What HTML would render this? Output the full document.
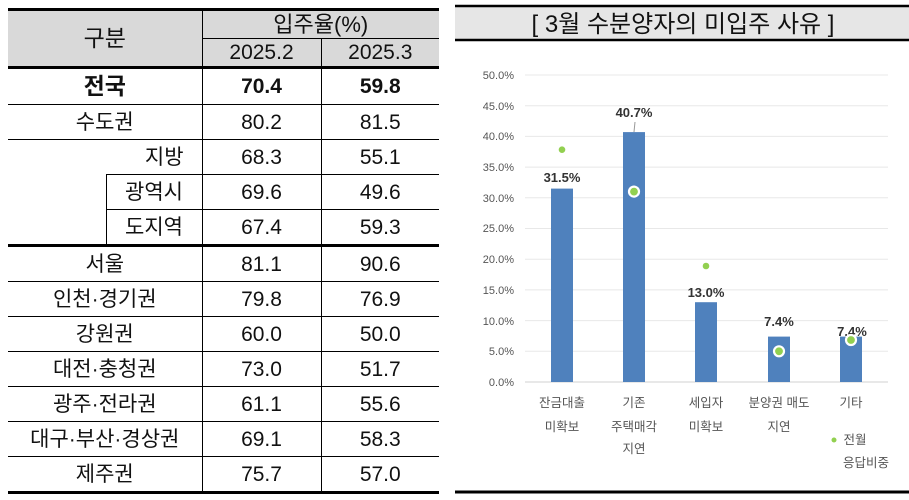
<!DOCTYPE html>
<html><head><meta charset="utf-8"><style>
body{margin:0;width:909px;height:500px;background:#fff;overflow:hidden;position:relative;font-family:"Liberation Sans","Noto Sans CJK KR",sans-serif;}
table{position:absolute;left:8px;top:8px;border-collapse:collapse;width:431px;table-layout:fixed;}
td{border:1px solid #000;text-align:center;font-size:21px;height:34px;padding:0;color:#111;line-height:1;}
.h{background:#d9d9d9;}
.tt{border-top:3px solid #000;}
.tb{border-bottom:3px solid #000;}
.nl{border-left:none;} .nr{border-right:none;}
</style></head><body>
<table>
<colgroup><col style="width:98px"><col style="width:96px"><col style="width:119px"><col style="width:118px"></colgroup>
<tr><td colspan="2" rowspan="2" class="h tt nl tb" style="font-size:23px">구분</td><td colspan="2" class="h tt nr" style="height:27px;font-size:22px">입주율(%)</td></tr>
<tr><td class="h tb" style="height:27px">2025.2</td><td class="h tb nr" style="height:27px">2025.3</td></tr>
<tr><td colspan="2" class="nl" style="font-weight:bold;font-size:23px;height:35px">전국</td><td style="font-weight:bold">70.4</td><td class="nr" style="font-weight:bold">59.8</td></tr>
<tr><td colspan="2" class="nl">수도권</td><td>80.2</td><td class="nr">81.5</td></tr>
<tr><td colspan="2" class="nl" style="border-bottom:none;text-align:right;padding-right:18px">지방</td><td>68.3</td><td class="nr">55.1</td></tr>
<tr><td rowspan="2" class="nl tb" style="border-top:none"></td><td>광역시</td><td>69.6</td><td class="nr">49.6</td></tr>
<tr><td class="tb">도지역</td><td class="tb">67.4</td><td class="tb nr">59.3</td></tr>
<tr><td colspan="2" class="nl">서울</td><td>81.1</td><td class="nr">90.6</td></tr>
<tr><td colspan="2" class="nl">인천·경기권</td><td>79.8</td><td class="nr">76.9</td></tr>
<tr><td colspan="2" class="nl">강원권</td><td>60.0</td><td class="nr">50.0</td></tr>
<tr><td colspan="2" class="nl">대전·충청권</td><td>73.0</td><td class="nr">51.7</td></tr>
<tr><td colspan="2" class="nl">광주·전라권</td><td>61.1</td><td class="nr">55.6</td></tr>
<tr><td colspan="2" class="nl">대구·부산·경상권</td><td>69.1</td><td class="nr">58.3</td></tr>
<tr><td colspan="2" class="nl tb">제주권</td><td class="tb">75.7</td><td class="tb nr">57.0</td></tr>
</table>
<svg width="909" height="500" style="position:absolute;left:0;top:0" font-family="Liberation Sans, Noto Sans CJK KR, sans-serif">
<rect x="455" y="6" width="454" height="34" fill="#e6e6e6"/>
<line x1="455" y1="6" x2="909" y2="6" stroke="#000" stroke-width="2.5"/>
<line x1="455" y1="40" x2="909" y2="40" stroke="#000" stroke-width="2.5"/>
<text x="683" y="32" font-size="24" text-anchor="middle" fill="#111">[ 3월  수분양자의  미입주  사유 ]</text>
<g stroke="#e8e8e8" stroke-width="1">
<line x1="525" y1="75" x2="888" y2="75"/><line x1="525" y1="105.7" x2="888" y2="105.7"/><line x1="525" y1="136.4" x2="888" y2="136.4"/><line x1="525" y1="167.1" x2="888" y2="167.1"/><line x1="525" y1="197.8" x2="888" y2="197.8"/><line x1="525" y1="228.5" x2="888" y2="228.5"/><line x1="525" y1="259.2" x2="888" y2="259.2"/><line x1="525" y1="289.9" x2="888" y2="289.9"/><line x1="525" y1="320.6" x2="888" y2="320.6"/><line x1="525" y1="351.3" x2="888" y2="351.3"/>
</g>
<line x1="525" y1="382" x2="888" y2="382" stroke="#d0d0d0"/>
<g font-size="11" fill="#555" text-anchor="end">
<text x="514" y="79">50.0%</text><text x="514" y="110">45.0%</text><text x="514" y="140">40.0%</text><text x="514" y="171">35.0%</text><text x="514" y="202">30.0%</text><text x="514" y="232">25.0%</text><text x="514" y="263">20.0%</text><text x="514" y="294">15.0%</text><text x="514" y="325">10.0%</text><text x="514" y="355">5.0%</text><text x="514" y="386">0.0%</text>
</g>
<g fill="#4f81bd">
<rect x="551" y="188.6" width="22" height="193.4"/>
<rect x="623" y="132.1" width="22" height="249.9"/>
<rect x="695" y="302.2" width="22" height="79.8"/>
<rect x="768" y="336.6" width="22" height="45.4"/>
<rect x="840" y="336.6" width="22" height="45.4"/>
</g>
<line x1="635" y1="122" x2="634" y2="132" stroke="#999"/>
<g font-size="13" font-weight="bold" fill="#333" text-anchor="middle">
<text x="562" y="182">31.5%</text><text x="634" y="117">40.7%</text><text x="706" y="297">13.0%</text><text x="779" y="326">7.4%</text><text x="852" y="336">7.4%</text>
</g>
<g fill="#92d050">
<circle cx="562" cy="149.7" r="3.3"/>
<circle cx="634" cy="191.6" r="5" stroke="#fff" stroke-width="2.2"/>
<circle cx="706" cy="266" r="3.3"/>
<circle cx="779" cy="351.3" r="5" stroke="#fff" stroke-width="2.2"/>
<circle cx="851" cy="340" r="5" stroke="#fff" stroke-width="2.2"/>
<circle cx="834" cy="440" r="2.5"/>
</g>
<g font-size="12.5" fill="#555" text-anchor="middle">
<text x="562" y="407">잔금대출</text><text x="562" y="431">미확보</text>
<text x="634" y="407">기존</text><text x="634" y="431">주택매각</text><text x="634" y="453">지연</text>
<text x="706" y="407">세입자</text><text x="706" y="431">미확보</text>
<text x="779" y="407">분양권 매도</text><text x="779" y="431">지연</text>
<text x="851" y="407">기타</text>
<text x="855" y="444">전월</text><text x="866" y="467">응답비중</text>
</g>
<line x1="455" y1="492" x2="909" y2="492" stroke="#000" stroke-width="3"/>
</svg>
</body></html>
